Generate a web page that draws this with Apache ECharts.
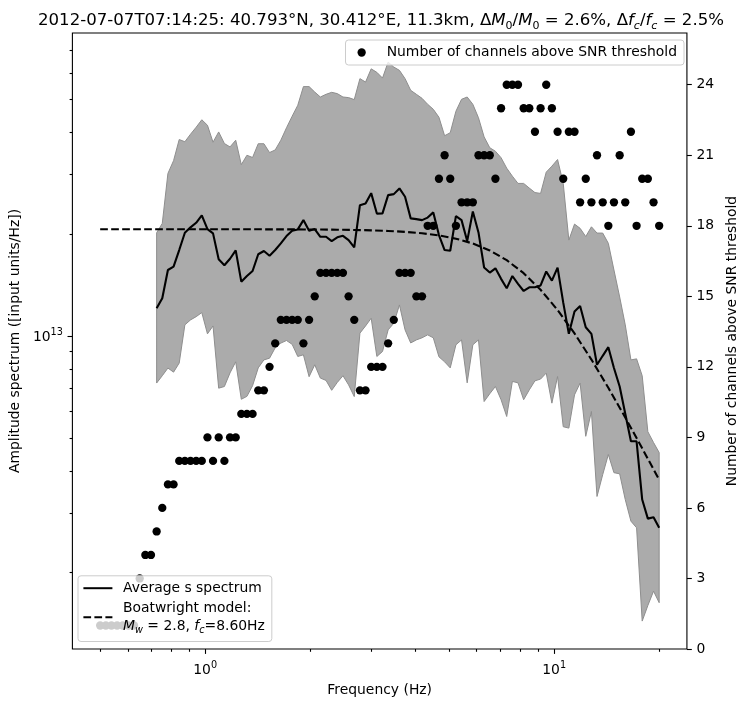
<!DOCTYPE html>
<html><head><meta charset="utf-8">
<script src="https://cdn.jsdelivr.net/npm/echarts@6.0.0/dist/echarts.min.js"></script>
<style>html,body{margin:0;padding:0;background:#fff}#c{width:747px;height:707px}</style>
</head><body><div id="c"></div>
<script>
// ---- data ----
const freqs = [0.5, 0.519, 0.5387, 0.5591, 0.5804, 0.6024, 0.6253, 0.649, 0.6736, 0.6992,
 0.7258, 0.7533, 0.7819, 0.8116, 0.8424, 0.8744, 0.9076, 0.942, 0.9778, 1.015,
 1.053, 1.093, 1.135, 1.178, 1.223, 1.269, 1.317, 1.367, 1.419, 1.473,
 1.529, 1.587, 1.647, 1.71, 1.775, 1.842, 1.912, 1.985, 2.06, 2.138,
 2.22, 2.304, 2.391, 2.482, 2.576, 2.674, 2.776, 2.881, 2.99, 3.104,
 3.222, 3.344, 3.471, 3.603, 3.739, 3.881, 4.029, 4.182, 4.34, 4.505,
 4.676, 4.854, 5.038, 5.23, 5.428, 5.634, 5.848, 6.07, 6.3, 6.54,
 6.788, 7.046, 7.313, 7.591, 7.879, 8.178, 8.489, 8.811, 9.145, 9.492,
 9.853, 10.23, 10.62, 11.02, 11.44, 11.87, 12.32, 12.79, 13.27, 13.78,
 14.3, 14.84, 15.41, 15.99, 16.6, 17.23, 17.88, 18.56, 19.27, 20.0];

const channelCounts = [1,1,1,1,1,1,1,3,4,4,
 5,6,7,7,8,8,8,8,8,9,
 8,9,8,9,9,10,10,10,11,11,
 12,13,14,14,14,14,13,14,15,16,
 16,16,16,16,15,14,11,11,12,12,
 12,13,14,16,16,16,15,15,18,18,
 20,21,20,18,19,19,19,21,21,21,
 20,23,24,24,24,23,23,22,23,24,
 23,22,20,22,22,19,20,19,21,19,
 18,19,21,19,22,18,20,20,19,18];

const avgSpectrum = [null,null,null,null,null,null,null,null,null,null,
 1.209e13,1.294e13,1.569e13,1.605e13,1.797e13,2.021e13,2.097e13,2.163e13,2.275e13,2.073e13,
 2.013e13,1.687e13,1.620e13,1.694e13,1.793e13,1.449e13,1.506e13,1.558e13,1.746e13,1.785e13,
 1.729e13,1.797e13,1.881e13,1.976e13,2.049e13,2.068e13,2.203e13,2.049e13,2.073e13,1.967e13,
 1.967e13,1.910e13,1.959e13,1.980e13,1.923e13,1.830e13,2.439e13,2.467e13,2.647e13,2.303e13,
 2.306e13,2.611e13,2.629e13,2.733e13,2.582e13,2.229e13,2.218e13,2.203e13,2.241e13,2.322e13,
 1.990e13,1.797e13,1.788e13,2.264e13,2.203e13,1.910e13,2.337e13,2.026e13,1.596e13,1.542e13,
 1.587e13,1.477e13,1.385e13,1.506e13,1.427e13,1.360e13,1.395e13,1.395e13,1.412e13,1.553e13,
 1.459e13,1.594e13,1.256e13,1.016e13,1.182e13,1.228e13,1.063e13,1.016e13,0.823e13,0.875e13,
 0.928e13,0.805e13,0.710e13,0.590e13,0.489e13,0.489e13,0.329e13,0.289e13,0.2916e13,0.2715e13];

const upperSpectrum = [null,null,null,null,null,null,null,null,null,null,
 2.021e13,2.154e13,3.026e13,3.302e13,3.812e13,3.755e13,3.952e13,4.144e13,4.361e13,4.201e13,
 3.743e13,4.014e13,3.710e13,3.625e13,3.794e13,3.213e13,3.425e13,3.373e13,3.705e13,3.705e13,
 3.489e13,3.551e13,3.794e13,4.130e13,4.466e13,4.812e13,5.464e13,5.464e13,5.267e13,5.091e13,
 5.185e13,5.256e13,5.210e13,5.091e13,5.070e13,5.002e13,5.769e13,5.636e13,6.166e13,6.021e13,
 5.792e13,6.457e13,6.242e13,6.103e13,5.769e13,5.328e13,5.185e13,5.046e13,4.845e13,4.683e13,
 4.436e13,3.912e13,3.993e13,4.620e13,5.012e13,5.091e13,4.845e13,4.421e13,3.880e13,3.605e13,
 3.520e13,3.368e13,3.137e13,2.971e13,2.828e13,2.828e13,2.739e13,2.657e13,2.642e13,3.053e13,
 3.180e13,3.327e13,2.828e13,1.923e13,2.144e13,2.083e13,1.970e13,2.105e13,2.017e13,2.017e13,
 1.881e13,1.569e13,1.306e13,1.080e13,0.851e13,0.857e13,0.764e13,0.522e13,0.485e13,0.453e13];

const lowerSpectrum = [null,null,null,null,null,null,null,null,null,null,
 0.727e13,0.764e13,0.805e13,0.783e13,0.833e13,1.080e13,1.117e13,1.142e13,1.174e13,1.016e13,
 1.072e13,0.702e13,0.710e13,0.779e13,0.840e13,0.651e13,0.664e13,0.714e13,0.806e13,0.851e13,
 0.861e13,0.924e13,0.954e13,0.971e13,0.946e13,0.871e13,0.881e13,0.759e13,0.823e13,0.752e13,
 0.740e13,0.692e13,0.730e13,0.764e13,0.718e13,0.663e13,1.021e13,1.072e13,1.130e13,0.871e13,
 0.901e13,1.044e13,1.092e13,1.237e13,1.044e13,0.955e13,0.975e13,0.989e13,1.009e13,0.989e13,
 0.869e13,0.840e13,0.806e13,0.943e13,0.975e13,0.728e13,0.943e13,0.975e13,0.641e13,0.676e13,
 0.710e13,0.649e13,0.579e13,0.735e13,0.728e13,0.649e13,0.694e13,0.738e13,0.747e13,0.778e13,
 0.634e13,0.760e13,0.540e13,0.535e13,0.671e13,0.727e13,0.506e13,0.599e13,0.336e13,0.390e13,
 0.447e13,0.395e13,0.392e13,0.329e13,0.284e13,0.2715e13,0.1439e13,0.160e13,0.1764e13,0.1631e13];

const modelFreqs = [0.5, 0.5591, 0.6253, 0.6992, 0.7819, 0.8744, 0.9778, 1.093, 1.223, 1.367,
 1.529, 1.71, 1.912, 2.138, 2.391, 2.674, 2.99, 3.344, 3.739, 4.182,
 4.676, 5.23, 5.848, 6.54, 7.313, 8.178, 9.145, 10.23, 11.44, 12.79,
 14.3, 15.99, 17.88, 20.0];
const modelAmp = [2.070e13, 2.070e13, 2.070e13, 2.070e13, 2.070e13, 2.070e13, 2.0698e13, 2.0697e13, 2.0696e13, 2.0693e13,
 2.0690e13, 2.0684e13, 2.0675e13, 2.0660e13, 2.0638e13, 2.0604e13, 2.0550e13, 2.0467e13, 2.0340e13, 2.0144e13,
 1.9850e13, 1.9415e13, 1.8789e13, 1.7920e13, 1.6773e13, 1.5354e13, 1.3712e13, 1.1951e13, 1.0189e13, 0.8529e13,
 0.7039e13, 0.5750e13, 0.4663e13, 0.3764e13];

const xMajorTicks = [1, 10];
const xMinorTicks = [0.5, 0.6, 0.7, 0.8, 0.9, 2, 3, 4, 5, 6, 7, 8, 9, 20];
const yMajorTicks = [1e13];
const yMinorTicks = [2e12, 3e12, 4e12, 5e12, 6e12, 7e12, 8e12, 9e12, 2e13, 3e13, 4e13, 5e13, 6e13, 7e13];
const countTicks = [0, 3, 6, 9, 12, 15, 18, 21, 24];

// ---- chart ----
const FONT = 'DejaVu Sans';
const FS = 13.9;
const X_MIN = 0.4163, X_MAX = 24.02;
const Y_MIN = 1.19e12, Y_MAX = 7.87e13;

function pairs(xs, ys) {
  const out = [];
  for (let i = 0; i < xs.length; i++) if (ys[i] != null) out.push([xs[i], ys[i]]);
  return out;
}
const supRich = {
  a: {fontFamily: FONT, fontSize: FS, color: '#000', lineHeight: 17, verticalAlign: 'bottom'},
  p: {fontFamily: FONT, fontSize: 9.7, color: '#000', lineHeight: 10, verticalAlign: 'top'}
};
function powLabel(v) {
  const e = Math.round(Math.log10(v));
  return '{a|10}{p|' + e + '}';
}
const tickLine = {color: '#000', width: 1.1};
const chart = echarts.init(document.getElementById('c'), null, {renderer: 'canvas'});

const option = {
  backgroundColor: '#fff',
  animation: false,
  textStyle: {fontFamily: FONT},
  title: {
    text: '2012-07-07T07:14:25: 40.793°N, 30.412°E, 11.3km, Δ{i|M}{s|0}/{i|M}{s|0} = 2.6%, Δ{i|f}{si|c}/{i|f}{si|c} = 2.5%',
    left: 381, top: 9.5, textAlign: 'center', padding: 0,
    textStyle: {
      fontFamily: FONT, fontSize: 16.6, fontWeight: 'normal', color: '#000', lineHeight: 22,
      rich: {
        i: {fontFamily: FONT, fontSize: 16.6, fontStyle: 'italic', color: '#000', lineHeight: 22},
        s: {fontFamily: FONT, fontSize: 11, color: '#000', lineHeight: 12, verticalAlign: 'bottom'},
        si: {fontFamily: FONT, fontSize: 11, fontStyle: 'italic', color: '#000', lineHeight: 12, verticalAlign: 'bottom'}
      }
    }
  },
  grid: {left: 71, top: 33, right: 56, bottom: 58, show: true, borderColor: '#000', borderWidth: 1.1, backgroundColor: 'transparent', containLabel: false},
  legend: [
    {
      data: ['Number of channels above SNR threshold'],
      right: 63, top: 40, orient: 'horizontal', z: 10,
      itemWidth: 28, itemHeight: 8.3, icon: 'circle',
      padding: [4.5, 7, 4.5, 12],
      backgroundColor: 'rgba(255,255,255,0.8)', borderColor: '#cccccc', borderWidth: 1, borderRadius: 3,
      textStyle: {fontFamily: FONT, fontSize: FS, color: '#000', padding: [0, 0, 0, 6], lineHeight: 16},
      selectedMode: false
    },
    {
      data: ['Average s spectrum', 'Boatwright model'],
      left: 78, top: 575.8, orient: 'vertical', z: 10,
      itemWidth: 29, itemHeight: 14, itemGap: 1.5,
      padding: [3.2, 7, 5.8, 4.4],
      backgroundColor: 'rgba(255,255,255,0.8)', borderColor: '#cccccc', borderWidth: 1, borderRadius: 3,
      selectedMode: false,
      itemStyle: {opacity: 0},
      formatter: function (name) {
        if (name === 'Boatwright model') return 'Boatwright model:\n{i|M}{s|w} = 2.8, {i|f}{s|c}=8.60Hz';
        return name;
      },
      textStyle: {
        fontFamily: FONT, fontSize: FS, color: '#000', lineHeight: 18.4, padding: [0, 0, 0, 5.6],
        rich: {
          i: {fontFamily: FONT, fontSize: FS, fontStyle: 'italic', color: '#000', lineHeight: 18.4},
          s: {fontFamily: FONT, fontSize: 9.7, fontStyle: 'italic', color: '#000', lineHeight: 10, verticalAlign: 'bottom'}
        }
      }
    }
  ],
  xAxis: [
    {
      type: 'log', logBase: 10, min: X_MIN, max: X_MAX, position: 'bottom',
      axisLine: {show: false},
      axisTick: {show: true, customValues: xMajorTicks, length: 4.9, lineStyle: tickLine},
      axisLabel: {show: true, customValues: xMajorTicks, margin: 11, formatter: powLabel, rich: supRich, color: '#000'},
      splitLine: {show: false},
      name: 'Frequency (Hz)', nameLocation: 'middle', nameGap: 34,
      nameTextStyle: {fontFamily: FONT, fontSize: FS, color: '#000'}
    },
    {
      type: 'log', logBase: 10, min: X_MIN, max: X_MAX, position: 'bottom',
      axisLine: {show: false},
      axisTick: {show: true, customValues: xMinorTicks, length: 2.8, lineStyle: tickLine},
      axisLabel: {show: false},
      splitLine: {show: false}
    }
  ],
  yAxis: [
    {
      type: 'log', logBase: 10, min: Y_MIN, max: Y_MAX, position: 'left',
      axisLine: {show: false},
      axisTick: {show: true, customValues: yMajorTicks, length: 4.9, lineStyle: tickLine},
      axisLabel: {show: true, customValues: yMajorTicks, margin: 9.5, formatter: powLabel, rich: supRich, color: '#000'},
      splitLine: {show: false},
      name: 'Amplitude spectrum ([input units/Hz])', nameLocation: 'middle', nameGap: 46, nameRotate: 90,
      nameTextStyle: {fontFamily: FONT, fontSize: FS, color: '#000'}
    },
    {
      type: 'log', logBase: 10, min: Y_MIN, max: Y_MAX, position: 'left',
      axisLine: {show: false},
      axisTick: {show: true, customValues: yMinorTicks, length: 2.8, lineStyle: tickLine},
      axisLabel: {show: false},
      splitLine: {show: false}
    },
    {
      type: 'value', min: 0, max: 26.2, position: 'right',
      axisLine: {show: false},
      axisTick: {show: true, customValues: countTicks, length: 4.9, lineStyle: tickLine},
      axisLabel: {show: true, customValues: countTicks, margin: 9.5, fontFamily: FONT, fontSize: FS, color: '#000'},
      splitLine: {show: false},
      name: 'Number of channels above SNR threshold', nameLocation: 'middle', nameGap: 28, nameRotate: 90,
      nameTextStyle: {fontFamily: FONT, fontSize: FS, color: '#000'}
    }
  ],
  series: [
    {
      type: 'custom', name: 'spread', xAxisIndex: 0, yAxisIndex: 0, silent: true, z: 1,
      clip: true,
      data: [[1, 1e13]],
      renderItem: function (params, api) {
        const pts = [];
        for (let i = 0; i < freqs.length; i++) if (upperSpectrum[i] != null) pts.push(api.coord([freqs[i], upperSpectrum[i]]));
        for (let i = freqs.length - 1; i >= 0; i--) if (lowerSpectrum[i] != null) pts.push(api.coord([freqs[i], lowerSpectrum[i]]));
        return {type: 'polygon', shape: {points: pts}, style: {fill: '#ababab', stroke: '#8e8e8e', lineWidth: 1}};
      }
    },
    {
      type: 'line', name: 'Average s spectrum', xAxisIndex: 0, yAxisIndex: 0, z: 2,
      data: pairs(freqs, avgSpectrum), symbol: 'none',
      lineStyle: {color: '#000', width: 2.1}, itemStyle: {color: '#000'}
    },
    {
      type: 'line', name: 'Boatwright model', xAxisIndex: 0, yAxisIndex: 0, z: 2,
      data: pairs(modelFreqs, modelAmp), symbol: 'none', smooth: false,
      lineStyle: {color: '#000', width: 2.1, type: [7.7, 3.3]}, itemStyle: {color: '#000'}
    },
    {
      type: 'scatter', name: 'Number of channels above SNR threshold', xAxisIndex: 0, yAxisIndex: 2, z: 3,
      data: pairs(freqs, channelCounts), symbol: 'circle', symbolSize: 8.3,
      itemStyle: {color: '#000', opacity: 1}
    }
  ]
};
chart.setOption(option);
</script>
</body></html>
